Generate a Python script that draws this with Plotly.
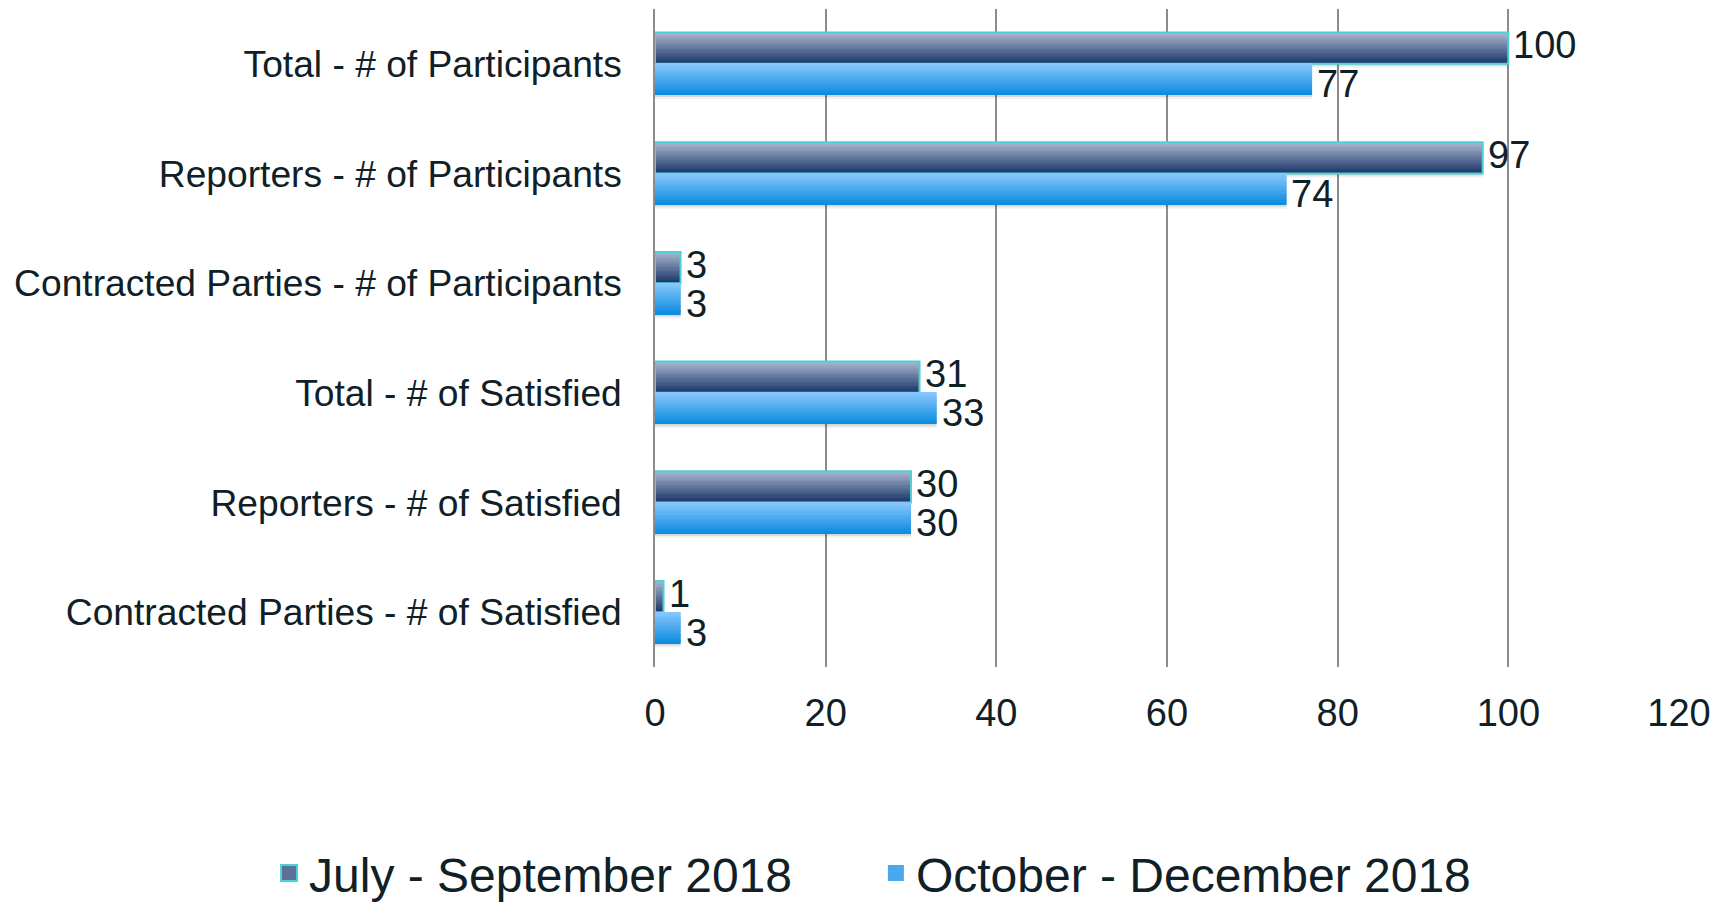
import plotly.graph_objects as go

categories = [
    "Total - # of Participants",
    "Reporters - # of Participants",
    "Contracted Parties - # of Participants",
    "Total - # of Satisfied",
    "Reporters - # of Satisfied",
    "Contracted Parties - # of Satisfied",
]
series_names = ["July - September 2018", "October - December 2018"]
jul_sep = [100, 97, 3, 31, 30, 1]
oct_dec = [77, 74, 3, 33, 30, 3]
x_ticks = [0, 20, 40, 60, 80, 100, 120]

TEXT = "#0f2027"
FONT = "Liberation Sans, Arial, sans-serif"
BW = 0.285          # bar thickness in category units
N = 24              # gradient stripes per bar
PLOT_H = 658
cat_px = PLOT_H / len(categories)

def lerp(c1, c2, t):
    return "rgb(%d,%d,%d)" % tuple(round(a + (b - a) * t) for a, b in zip(c1, c2))

styles = [
    dict(top=(172, 184, 208), bot=(28, 56, 108), off=-BW, line="#4fcfd6", mid="#5d7198",
         yshift=3, legend="legend"),
    dict(top=(136, 200, 252), bot=(14, 140, 224), off=0.0, line=None, mid="#4aa8f0",
         yshift=-5, legend="legend2"),
]

fig = go.Figure()
# soft shadows behind the bars
for vals, st in zip([jul_sep, oct_dec], styles):
    for k, a in enumerate([0.10, 0.06]):
        fig.add_trace(go.Bar(
            y=categories, x=vals, orientation="h",
            width=BW, offset=st["off"] + (2 + 2 * k) / cat_px,
            marker=dict(color="rgba(0,0,0,%.2f)" % a, line=dict(width=0)),
            showlegend=False, hoverinfo="skip",
        ))

annotations = []
for vals, st, name in zip([jul_sep, oct_dec], styles, series_names):
    sw = BW / N
    for i in range(N):
        fig.add_trace(go.Bar(
            y=categories, x=vals, orientation="h",
            width=sw * 1.4 if i < N - 1 else sw, offset=st["off"] + i * sw,
            marker=dict(color=lerp(st["top"], st["bot"], i / (N - 1)), line=dict(width=0)),
            showlegend=False, hoverinfo="skip",
        ))
    if st["line"]:
        fig.add_trace(go.Bar(
            y=categories, x=vals, orientation="h",
            width=BW, offset=st["off"],
            marker=dict(color="rgba(0,0,0,0)", line=dict(width=2, color=st["line"])),
            showlegend=False, hoverinfo="skip",
        ))
    # legend entry
    fig.add_trace(go.Scatter(
        y=[None], x=[None], mode="markers", name=name, legend=st["legend"],
        marker=dict(symbol="square", size=22, color=st["mid"],
                    line=dict(width=2 if st["line"] else 0, color=st["line"] or st["mid"])),
    ))
    sign = 1 if st["off"] < 0 else -1
    for cat, v in zip(categories, vals):
        annotations.append(dict(
            x=v, y=cat, xref="x", yref="y", text=str(v), showarrow=False,
            xanchor="left", yanchor="middle", xshift=3,
            yshift=st["yshift"] + sign * BW / 2 * cat_px,
            font=dict(size=38, color=TEXT, family=FONT),
        ))

fig.update_layout(
    width=1722, height=894,
    margin=dict(l=647, r=51, t=1, b=235),
    barmode="overlay",
    plot_bgcolor="white", paper_bgcolor="white",
    font=dict(family=FONT, color=TEXT),
    annotations=annotations,
    xaxis=dict(range=[0, 120], tickvals=x_ticks, showgrid=True, gridcolor="#8c8c8c",
               gridwidth=1.5, zeroline=False, showline=False, ticks="", automargin=False,
               tickfont=dict(size=38, color=TEXT), ticklabelstandoff=20),
    yaxis=dict(categoryorder="array", categoryarray=categories, autorange="reversed",
               showgrid=False, zeroline=False, showline=True, linecolor="#8c8c8c", linewidth=1.5,
               ticks="", automargin=False,
               tickfont=dict(size=37.2, color=TEXT), ticklabelstandoff=24),
    legend=dict(orientation="h", xref="container", yref="container",
                x=0.1516, xanchor="left", y=0.032, yanchor="middle",
                font=dict(size=48, color=TEXT), itemsizing="trace", bgcolor="rgba(0,0,0,0)"),
    legend2=dict(orientation="h", xref="container", yref="container",
                 x=0.504, xanchor="left", y=0.032, yanchor="middle",
                 font=dict(size=48, color=TEXT), itemsizing="trace", bgcolor="rgba(0,0,0,0)"),
)

fig.write_html("out.html")
